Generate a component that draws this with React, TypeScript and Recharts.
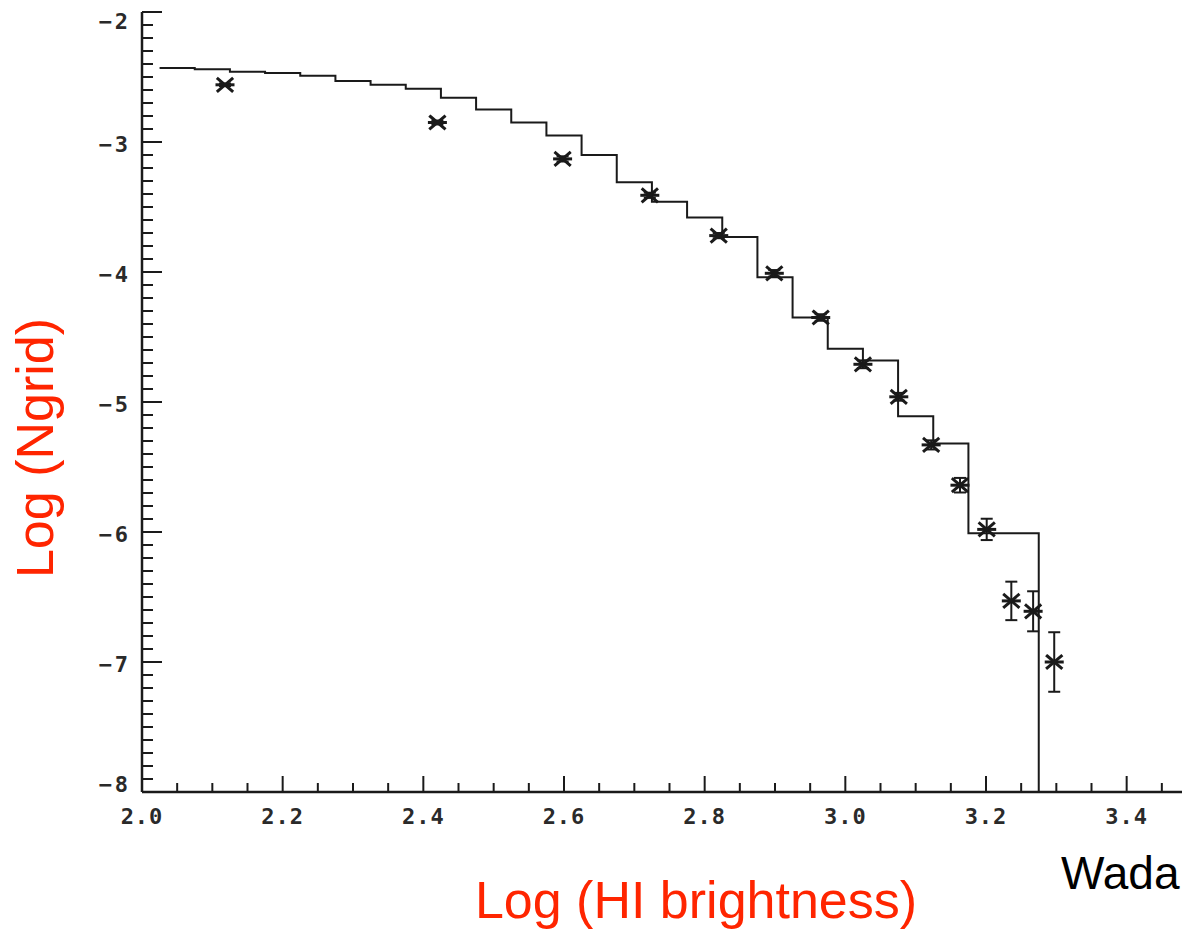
import { ComposedChart, Line, Scatter, ErrorBar, XAxis, YAxis } from "recharts";

// Model histogram: bin centres (log HI brightness) and log Ngrid per bin
const BIN_CENTERS = [
  2.05, 2.1, 2.15, 2.2, 2.25, 2.3, 2.35, 2.4, 2.45, 2.5, 2.55, 2.6, 2.65, 2.7, 2.75, 2.8, 2.85, 2.9,
  2.95, 3.0, 3.05, 3.1, 3.15, 3.2, 3.25,
];
const BIN_VALUES = [
  -2.43, -2.44, -2.46, -2.47, -2.49, -2.53, -2.56, -2.59, -2.66, -2.75, -2.85, -2.95, -3.1, -3.31,
  -3.46, -3.58, -3.73, -4.04, -4.35, -4.59, -4.68, -5.11, -5.32, -6.01, -6.01,
];
const BIN_WIDTH = 0.05;

// Observed points (asterisks) with error bars
const OBS_X = [2.118, 2.42, 2.598, 2.722, 2.82, 2.899, 2.965, 3.025, 3.076, 3.122, 3.163, 3.201, 3.236, 3.267, 3.297];
const OBS_Y = [-2.56, -2.85, -3.13, -3.41, -3.72, -4.01, -4.35, -4.71, -4.96, -5.33, -5.64, -5.98, -6.53, -6.61, -7.0];
const OBS_ERR = [0.01, 0.015, 0.02, 0.02, 0.02, 0.025, 0.025, 0.03, 0.03, 0.035, 0.056, 0.082, 0.148, 0.154, 0.229];

// Axes
const X_DOMAIN = [2.0, 3.5];
const Y_DOMAIN = [-8, -2];
const X_TICKS = [2.0, 2.2, 2.4, 2.6, 2.8, 3.0, 3.2, 3.4];
const Y_TICKS = [-8, -7, -6, -5, -4, -3, -2];
const X_MINOR_STEP = 0.05;
const Y_MINOR_STEP = 0.1;

const X_TITLE = "Log (HI brightness)";
const Y_TITLE = "Log (Ngrid)";
const CREDIT = "Wada";

const INK = "#1a1a1a";
const RED = "#ff2500";
const TICK_FONT = "'DejaVu Sans Mono', monospace";
const TITLE_FONT = "'Liberation Sans', Arial, sans-serif";

const range = (lo: number, hi: number, step: number) => {
  const out: number[] = [];
  const n = Math.round((hi - lo) / step);
  for (let i = 0; i <= n; i++) out.push(Math.round((lo + i * step) * 1000) / 1000);
  return out;
};
const xAllTicks = range(X_DOMAIN[0], X_DOMAIN[1], X_MINOR_STEP);
const yAllTicks = range(Y_DOMAIN[0], Y_DOMAIN[1], Y_MINOR_STEP);
const isMajor = (v: number, majors: number[]) => majors.some((m) => Math.abs(m - v) < 1e-6);

// step line through bin edges, closed down to the axis floor after the last bin
const histData = [
  ...BIN_CENTERS.map((c, i) => ({ x: c - BIN_WIDTH / 2, y: BIN_VALUES[i] })),
  { x: BIN_CENTERS[BIN_CENTERS.length - 1] + BIN_WIDTH / 2, y: BIN_VALUES[BIN_VALUES.length - 1] },
  { x: BIN_CENTERS[BIN_CENTERS.length - 1] + BIN_WIDTH / 2, y: Y_DOMAIN[0] },
];
const obsData = OBS_X.map((x, i) => ({ x, y: OBS_Y[i], err: OBS_ERR[i] }));

const minus = (v: number) => (v < 0 ? "\u2212" + Math.abs(v) : String(v));

function BottomTick({ x, y, payload }: any) {
  const major = isMajor(payload.value, X_TICKS);
  return (
    <g>
      <line x1={x} y1={y} x2={x} y2={y - (major ? 16 : 9)} stroke={INK} strokeWidth={2} />
      {major && (
        <text
          x={x}
          y={y + 32}
          textAnchor="middle"
          fontFamily={TICK_FONT}
          fontSize={22}
          fontWeight="bold"
          letterSpacing={1}
          fill="#2a2a2a"
        >
          {payload.value.toFixed(1)}
        </text>
      )}
    </g>
  );
}

function TopTick({ x, y, payload }: any) {
  const major = isMajor(payload.value, X_TICKS);
  return <line x1={x} y1={y} x2={x} y2={y + (major ? 16 : 8)} stroke={INK} strokeWidth={2} />;
}

function LeftTick({ x, y, payload }: any) {
  const v = payload.value;
  const major = isMajor(v, Y_TICKS);
  const dy = v === Y_DOMAIN[1] ? 9 : v === Y_DOMAIN[0] ? -8 : 2;
  return (
    <g>
      <line x1={x} y1={y} x2={x + (major ? 20 : 11)} y2={y} stroke={INK} strokeWidth={2} />
      {major && (
        <text
          x={x - 11}
          y={y + dy}
          textAnchor="end"
          dominantBaseline="central"
          fontFamily={TICK_FONT}
          fontSize={22}
          fontWeight="bold"
          letterSpacing={3}
          fill="#2a2a2a"
        >
          {minus(v)}
        </text>
      )}
    </g>
  );
}

function RightTick({ x, y, payload }: any) {
  const major = isMajor(payload.value, Y_TICKS);
  return <line x1={x} y1={y} x2={x - (major ? 20 : 11)} y2={y} stroke={INK} strokeWidth={2} />;
}

function Asterisk({ cx, cy }: any) {
  if (cx == null || cy == null) return null;
  return (
    <g stroke={INK} strokeWidth={3} strokeLinecap="square">
      <line x1={cx - 8} y1={cy} x2={cx + 8} y2={cy} />
      <line x1={cx - 7} y1={cy - 6} x2={cx + 7} y2={cy + 6} />
      <line x1={cx - 7} y1={cy + 6} x2={cx + 7} y2={cy - 6} />
    </g>
  );
}

export default function App() {
  return (
    <div
      style={{
        position: "absolute",
        left: 0,
        top: 0,
        width: 1182,
        height: 930,
        overflow: "hidden",
        background: "#fff",
      }}
    >
      <ComposedChart width={1210} height={930} margin={{ top: 12, right: 13, bottom: 0, left: 0 }}>
        <XAxis
          type="number"
          dataKey="x"
          domain={X_DOMAIN}
          allowDataOverflow
          ticks={xAllTicks}
          interval={0}
          height={138}
          tickSize={0}
          tickMargin={0}
          tickLine={false}
          tick={BottomTick}
          axisLine={{ stroke: INK, strokeWidth: 2.5 }}
        />
        <XAxis
          xAxisId="top"
          orientation="top"
          type="number"
          dataKey="x"
          domain={X_DOMAIN}
          allowDataOverflow
          ticks={xAllTicks}
          interval={0}
          height={0}
          tickSize={0}
          tickMargin={0}
          tickLine={false}
          tick={TopTick}
          axisLine={{ stroke: INK, strokeWidth: 2.5 }}
        />
        <YAxis
          type="number"
          dataKey="y"
          domain={Y_DOMAIN}
          allowDataOverflow
          ticks={yAllTicks}
          interval={0}
          width={142}
          tickSize={0}
          tickMargin={0}
          tickLine={false}
          tick={LeftTick}
          axisLine={{ stroke: INK, strokeWidth: 2.5 }}
        />
        <YAxis
          yAxisId="right"
          orientation="right"
          type="number"
          dataKey="y"
          domain={Y_DOMAIN}
          allowDataOverflow
          ticks={yAllTicks}
          interval={0}
          width={0}
          tickSize={0}
          tickMargin={0}
          tickLine={false}
          tick={RightTick}
          axisLine={{ stroke: INK, strokeWidth: 2.5 }}
        />
        <Line
          data={histData}
          dataKey="y"
          type="stepAfter"
          stroke={INK}
          strokeWidth={2}
          dot={false}
          activeDot={false}
          isAnimationActive={false}
        />
        <Scatter data={obsData} dataKey="y" shape={Asterisk} isAnimationActive={false}>
          <ErrorBar dataKey="err" direction="y" width={6} stroke={INK} strokeWidth={2} isAnimationActive={false} />
        </Scatter>
      </ComposedChart>
      <svg
        width={1182}
        height={930}
        style={{ position: "absolute", left: 0, top: 0, pointerEvents: "none" }}
      >
        <text
          transform="translate(53,448) rotate(-90)"
          textAnchor="middle"
          fontFamily={TITLE_FONT}
          fontSize={52}
          fill={RED}
        >
          {Y_TITLE}
        </text>
        <text x={696} y={918} textAnchor="middle" fontFamily={TITLE_FONT} fontSize={52} fill={RED}>
          {X_TITLE}
        </text>
        <text x={1061} y={889} fontFamily={TITLE_FONT} fontSize={46} fill="#000">
          {CREDIT}
        </text>
      </svg>
    </div>
  );
}
